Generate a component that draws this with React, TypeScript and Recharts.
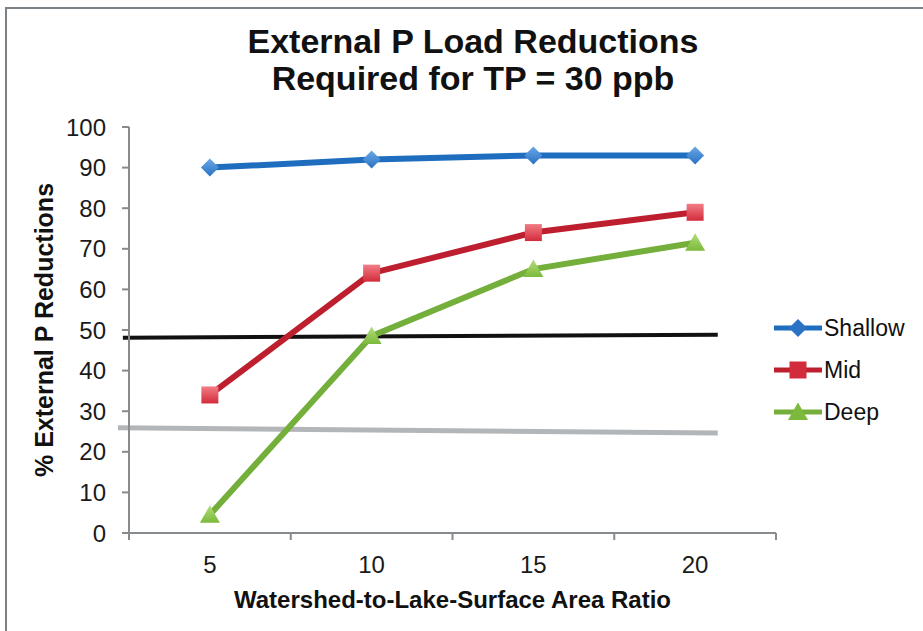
import { LineChart, Line, XAxis, YAxis, ReferenceLine, Legend } from 'recharts';

const ratios = [5, 10, 15, 20];
const shallow = [90, 92, 93, 93];
const mid = [34, 64, 74, 79];
const deep = [4.5, 48.5, 65, 71.5];

const yTicks = [0, 10, 20, 30, 40, 50, 60, 70, 80, 90, 100];
// tick marks sit between the categories, labels on them
const xTickPositions = [2.5, 5, 7.5, 10, 12.5, 15, 17.5, 20, 22.5];

// hand-drawn threshold lines on the original
const blackLine = [{ x: 2.31, y: 48.1 }, { x: 20.7, y: 48.8 }];
const grayLine = [{ x: 2.16, y: 25.9 }, { x: 20.7, y: 24.6 }];

const data = ratios.map((r, i) => ({ x: r, shallow: shallow[i], mid: mid[i], deep: deep[i] }));

const FONT = '"Liberation Sans", Arial, sans-serif';
const AXIS = '#868b90';

const series = [
  { key: 'shallow', name: 'Shallow', line: '#1f6dbf', top: '#6aa8e6', bottom: '#2a72c4', shape: 'diamond' },
  { key: 'mid', name: 'Mid', line: '#bd1f2e', top: '#f27d86', bottom: '#d22b3b', shape: 'square' },
  { key: 'deep', name: 'Deep', line: '#74ae3b', top: '#b2dd7a', bottom: '#7cba3c', shape: 'triangle' },
];

function Marker({ shape, cx, cy, fill }: { shape: string; cx: number; cy: number; fill: string }) {
  if (shape === 'diamond') {
    return <polygon points={`${cx},${cy - 9} ${cx + 9},${cy} ${cx},${cy + 9} ${cx - 9},${cy}`} fill={fill} />;
  }
  if (shape === 'square') {
    return <rect x={cx - 8.5} y={cy - 8.5} width={17} height={17} fill={fill} />;
  }
  return <polygon points={`${cx},${cy - 9.5} ${cx + 10},${cy + 8} ${cx - 10},${cy + 8}`} fill={fill} />;
}

function XTick(props: any) {
  const { x, y, payload } = props;
  if (ratios.includes(payload.value)) {
    return (
      <text x={x} y={y + 40} textAnchor="middle" fontSize={24} fill="#1a1a1a">
        {payload.value}
      </text>
    );
  }
  return <line x1={x} y1={y} x2={x} y2={y + 7} stroke={AXIS} strokeWidth={2} />;
}

const renderXTitle = (props: any) => {
  const vb = props.viewBox || { x: 129, y: 533, width: 647 };
  return (
    <text x={vb.x + vb.width / 2} y={vb.y + 75} textAnchor="middle" fontSize={24} fontWeight="bold" fill="#111">
      Watershed-to-Lake-Surface Area Ratio
    </text>
  );
};

const renderYTitle = (props: any) => {
  const vb = props.viewBox || { x: 0, y: 127, height: 406 };
  const cx = vb.x + 44;
  const cy = vb.y + vb.height / 2;
  return (
    <text
      x={cx}
      y={cy}
      transform={`rotate(-90, ${cx}, ${cy})`}
      textAnchor="middle"
      dominantBaseline="central"
      fontSize={25}
      fontWeight="bold"
      fill="#111"
    >
      % External P Reductions
    </text>
  );
};

const renderLegend = () => (
  <div style={{ fontFamily: FONT }}>
    {series.map((s) => (
      <div key={s.key} style={{ display: 'flex', alignItems: 'center', height: 42 }}>
        <svg width={50} height={22}>
          <line x1={0} y1={11} x2={48} y2={11} stroke={s.line} strokeWidth={5} />
          <Marker shape={s.shape} cx={24} cy={11} fill={s.bottom} />
        </svg>
        <span style={{ fontSize: 23, color: '#111' }}>{s.name}</span>
      </div>
    ))}
  </div>
);

export default function App() {
  return (
    <div style={{ position: 'absolute', left: 0, top: 0, width: 923, height: 631, overflow: 'hidden', background: '#fff', fontFamily: FONT }}>
      <div
        style={{
          position: 'absolute',
          left: 5,
          top: 7,
          width: 960,
          height: 660,
          borderLeft: `2px solid #7b8287`,
          borderTop: `2px solid #7b8287`,
        }}
      />
      <div
        style={{
          position: 'absolute',
          left: 173,
          top: 23,
          width: 600,
          textAlign: 'center',
          fontSize: 34,
          lineHeight: '37px',
          fontWeight: 'bold',
          color: '#111',
        }}
      >
        External P Load Reductions
        <br />
        Required for TP = 30 ppb
      </div>
      <LineChart
        width={923}
        height={631}
        data={data}
        margin={{ top: 127, right: 147, bottom: 68, left: 0 }}
        style={{ position: 'absolute', left: 0, top: 0, fontFamily: FONT }}
      >
        <defs>
          {series.map((s) => (
            <linearGradient key={s.key} id={`g-${s.key}`} x1="0" y1="0" x2="0" y2="1">
              <stop offset="0%" stopColor={s.top} />
              <stop offset="100%" stopColor={s.bottom} />
            </linearGradient>
          ))}
        </defs>
        <XAxis
          dataKey="x"
          type="number"
          domain={[2.5, 22.5]}
          ticks={xTickPositions}
          interval={0}
          tickLine={false}
          tickSize={0}
          tickMargin={0}
          axisLine={{ stroke: AXIS, strokeWidth: 2 }}
          tick={<XTick />}
          height={30}
          label={renderXTitle}
        />
        <YAxis
          type="number"
          domain={[0, 100]}
          ticks={yTicks}
          interval={0}
          width={129}
          tickSize={7}
          tickMargin={16}
          tick={{ fontSize: 24, fill: '#1a1a1a' }}
          axisLine={{ stroke: AXIS, strokeWidth: 2 }}
          tickLine={{ stroke: AXIS, strokeWidth: 2 }}
          label={renderYTitle}
        />
        <ReferenceLine segment={grayLine} stroke="#b3b6b9" strokeWidth={5} ifOverflow="visible" />
        <ReferenceLine segment={blackLine} stroke="#111" strokeWidth={4} ifOverflow="visible" />
        {series.map((s) => (
          <Line
            key={s.key}
            dataKey={s.key}
            name={s.name}
            stroke={s.line}
            strokeWidth={6}
            isAnimationActive={false}
            activeDot={false}
            dot={(p: any) => (
              <Marker key={`${s.key}-${p.index}`} shape={s.shape} cx={p.cx} cy={p.cy} fill={`url(#g-${s.key})`} />
            )}
          />
        ))}
        <Legend
          layout="vertical"
          align="center"
          verticalAlign="middle"
          wrapperStyle={{ left: 774, top: 307, width: 150 }}
          content={renderLegend}
        />
      </LineChart>
    </div>
  );
}
